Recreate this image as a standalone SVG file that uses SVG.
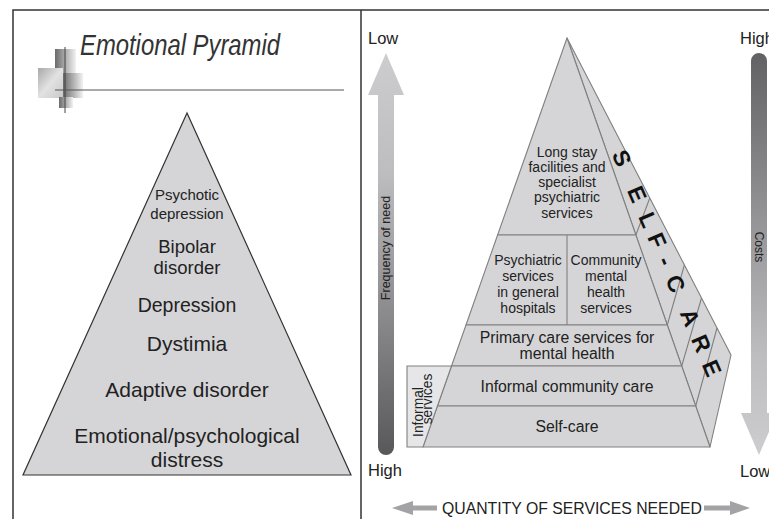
<svg xmlns="http://www.w3.org/2000/svg" width="769" height="519" viewBox="0 0 769 519">
<style>
text{font-family:"Liberation Sans",Arial,sans-serif;fill:#222}
.frame{stroke:#333;stroke-width:1.5;fill:none}
.lp{fill:#d5d5d7;stroke:#333;stroke-width:1.2}
.rp{fill:#d5d5d7;stroke:#808080;stroke-width:1.1;stroke-linejoin:round}
.ln{stroke:#808080;stroke-width:1.1;fill:none}
.c{text-anchor:middle}
</style>
<defs>
<linearGradient id="gUp" x1="0" y1="53" x2="0" y2="455" gradientUnits="userSpaceOnUse">
<stop offset="0" stop-color="#cdcdcf"/><stop offset="0.3" stop-color="#bdbdbf"/><stop offset="1" stop-color="#58585a"/>
</linearGradient>
<linearGradient id="gDn" x1="0" y1="53" x2="0" y2="455" gradientUnits="userSpaceOnUse">
<stop offset="0" stop-color="#626264"/><stop offset="0.75" stop-color="#bdbdbf"/><stop offset="1" stop-color="#cdcdcf"/>
</linearGradient>
<linearGradient id="gSq" x1="0" y1="0" x2="1" y2="0">
<stop offset="0" stop-color="#6a6a6a"/><stop offset="1" stop-color="#f2f2f2"/>
</linearGradient>
<linearGradient id="gSq2" x1="0" y1="0" x2="1" y2="1">
<stop offset="0" stop-color="#a8a8a8"/><stop offset="0.5" stop-color="#e2e2e2"/><stop offset="1" stop-color="#c8c8c8"/>
</linearGradient>
</defs>
<rect width="769" height="519" fill="#fff"/>
<g id="frame">
<path class="frame" d="M13,519 V10 H769 M361,10 V519"/>
</g>
<g id="title">
<rect x="55" y="49" width="21" height="26" fill="url(#gSq)"/>
<rect x="38" y="68" width="25" height="30" fill="url(#gSq2)"/>
<rect x="63" y="73" width="20" height="25" fill="url(#gSq)"/>
<rect x="59" y="97" width="14" height="11" fill="url(#gSq)"/>
<line x1="65" y1="47" x2="65" y2="113" stroke="#444" stroke-width="1"/>
<line x1="55" y1="90" x2="344" y2="90" stroke="#555" stroke-width="1"/>
<text x="80" y="55" font-size="29" font-style="italic" textLength="200" lengthAdjust="spacingAndGlyphs" style="fill:#333">Emotional Pyramid</text>
</g>
<g id="emotional-pyramid">
<polygon class="lp" points="187,113 23,475 351,475"/>
<text class="c" x="187" font-size="15"><tspan x="187" y="200">Psychotic</tspan><tspan x="187" y="219">depression</tspan></text>
<text class="c" x="187" font-size="18.5"><tspan x="187" y="253">Bipolar</tspan><tspan x="187" y="274">disorder</tspan></text>
<text class="c" x="187" y="312" font-size="19.5">Depression</text>
<text class="c" x="187" y="351" font-size="21">Dystimia</text>
<text class="c" x="187" y="397" font-size="21">Adaptive disorder</text>
<text class="c" x="187" font-size="21"><tspan x="187" y="443">Emotional/psychological</tspan><tspan x="187" y="467">distress</tspan></text>
</g>
<g id="frequency-arrow">
<path d="M386,53 L404,95 L394,95 L394,447 A8,8 0 0 1 378,447 L378,95 L368,95 Z" fill="url(#gUp)"/>
<text x="368" y="44" font-size="16.5">Low</text>
<text x="368" y="476" font-size="16.5">High</text>
<text class="c" font-size="12.5" transform="translate(389.5,248) rotate(-90)" x="0" y="0">Frequency of need</text>
</g>
<g id="costs-arrow">
<path d="M751,61 A8,8 0 0 1 767,61 L767,413 L777,413 L759,455 L741,413 L751,413 Z" fill="url(#gDn)"/>
<text x="740" y="44" font-size="16.5">High</text>
<text x="740" y="477" font-size="16.5">Low</text>
<text class="c" font-size="12" transform="translate(755,247) rotate(90)" x="0" y="0">Costs</text>
</g>
<g id="side-face">
<polygon class="rp" points="567,38 731,355 710,447"/>
<path class="ln" d="M635.9,235 L649.8,198 M667.3,325 L684.4,265 M681.7,366 L701.5,298 M695.7,406 L717,328"/>
<text font-size="23" font-weight="bold" transform="translate(622,158) rotate(66.8)" x="-7.5 31.5 60 82.5 108 128.5 165 193.5 221" y="8.2" style="fill:#111">SELF-CARE</text>
</g>
<g id="level-1">
<polygon class="rp" points="567,38 635.9,235 497.6,235"/>
<text class="c" font-size="14"><tspan x="567" y="157">Long stay</tspan><tspan x="567" y="172">facilities and</tspan><tspan x="567" y="187">specialist</tspan><tspan x="567" y="202">psychiatric</tspan><tspan x="567" y="218">services</tspan></text>
</g>
<g id="level-2">
<polygon class="rp" points="497.6,235 635.9,235 667.3,325 466,325"/>
<line class="ln" x1="567" y1="235" x2="567" y2="325"/>
<text class="c" font-size="14"><tspan x="528" y="265">Psychiatric</tspan><tspan x="528" y="281">services</tspan><tspan x="528" y="297">in general</tspan><tspan x="528" y="313">hospitals</tspan></text>
<text class="c" font-size="14"><tspan x="606" y="265">Community</tspan><tspan x="606" y="281">mental</tspan><tspan x="606" y="297">health</tspan><tspan x="606" y="313">services</tspan></text>
</g>
<g id="level-3">
<polygon class="rp" points="466,325 667.3,325 681.7,366 451.5,366"/>
<text class="c" font-size="15.8"><tspan x="567" y="343">Primary care services for</tspan><tspan x="567" y="359">mental health</tspan></text>
</g>
<g id="level-4">
<polygon class="rp" points="451.5,366 681.7,366 695.7,406 437.4,406"/>
<text class="c" x="567" y="392" font-size="15.8">Informal community care</text>
</g>
<g id="level-5">
<polygon class="rp" points="437.4,406 695.7,406 710,447 423,447"/>
<text class="c" x="567" y="432" font-size="15.8">Self-care</text>
</g>
<g id="informal-services">
<polygon points="407,366 451.5,366 423,447 407,447" fill="#e6e6e8" stroke="#808080" stroke-width="1.1"/>
<text class="c" font-size="13.8" transform="translate(423,412) rotate(-90)" x="0" y="0">Informal</text>
<text class="c" font-size="13.8" transform="translate(432,399) rotate(-90)" x="0" y="0">services</text>
</g>
<g id="quantity">
<path d="M392,508 L413,501 L413,505.5 L437,505.5 L437,510.5 L413,510.5 L413,515 Z" fill="#a3a3a5"/>
<path d="M750,508 L730,501 L730,505.5 L704,505.5 L704,510.5 L730,510.5 L730,515 Z" fill="#a3a3a5"/>
<text x="442" y="513.5" font-size="15.7" textLength="260" lengthAdjust="spacingAndGlyphs">QUANTITY OF SERVICES NEEDED</text>
</g>
</svg>
